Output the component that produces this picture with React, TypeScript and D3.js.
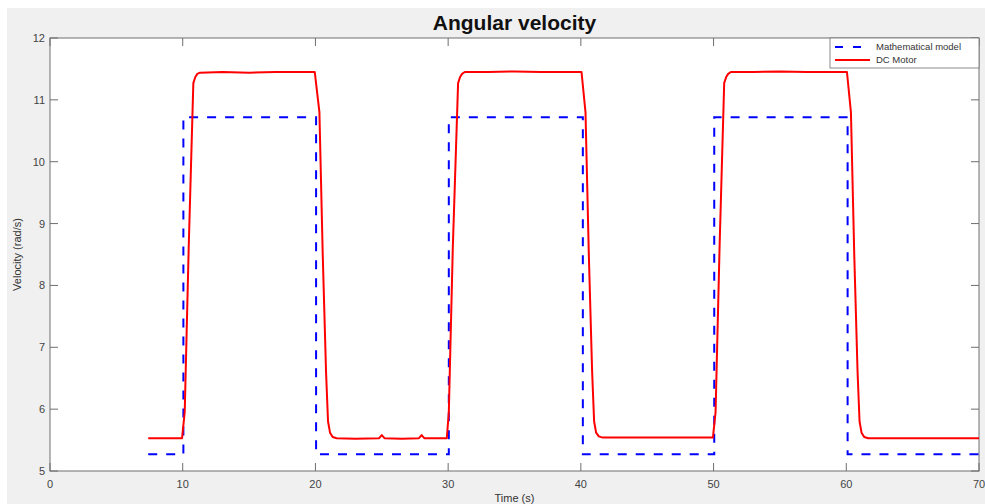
import { useEffect, useRef } from "react";
import * as d3 from "d3";

const W = 985;
const H = 504;
const margin = { top: 38, right: 6, bottom: 33, left: 50 };
const plotW = W - margin.left - margin.right;
const plotH = H - margin.top - margin.bottom;

const xTicks = [0, 10, 20, 30, 40, 50, 60, 70];
const yTicks = [5, 6, 7, 8, 9, 10, 11, 12];

// mathematical model (step input response)
const modelTime = [7.4, 10.05, 10.05, 20.05, 20.05, 30.05, 30.05, 40.15, 40.15, 50.05, 50.05, 60.1, 60.1, 70];
const modelVel = [5.27, 5.27, 10.72, 10.72, 5.27, 5.27, 10.72, 10.72, 5.27, 5.27, 10.72, 10.72, 5.27, 5.27];

// measured DC motor
const motorTime = [
  7.4, 9.95, 10.15, 10.45, 10.8, 10.95, 11.1, 11.3, 13, 15, 17, 19.95,
  20.3, 20.55, 20.8, 20.95, 21.1, 21.3, 21.6, 23, 24.8, 25.0, 25.2, 26.5, 27.8, 28.0, 28.2, 29.9,
  30.05, 30.35, 30.75, 30.9, 31.05, 31.25, 33, 35, 37, 40.05,
  40.35, 40.6, 40.85, 41.0, 41.15, 41.35, 41.65, 44, 47, 49.95,
  50.15, 50.45, 50.8, 50.95, 51.1, 51.3, 53, 55, 57, 60.05,
  60.35, 60.6, 60.85, 61.0, 61.15, 61.35, 61.65, 64, 67, 70,
];
const motorVel = [
  5.53, 5.53, 5.95, 8.6, 11.27, 11.37, 11.42, 11.44, 11.45, 11.44, 11.45, 11.45,
  10.8, 8.5, 6.6, 5.8, 5.62, 5.55, 5.53, 5.52, 5.53, 5.58, 5.53, 5.52, 5.53, 5.58, 5.53, 5.53,
  5.95, 8.6, 11.27, 11.37, 11.42, 11.45, 11.45, 11.46, 11.45, 11.45,
  10.8, 8.5, 6.6, 5.8, 5.62, 5.56, 5.54, 5.54, 5.54, 5.54,
  5.95, 8.6, 11.27, 11.37, 11.42, 11.45, 11.45, 11.46, 11.45, 11.45,
  10.8, 8.5, 6.6, 5.8, 5.62, 5.55, 5.53, 5.53, 5.53, 5.53,
];

export default function App() {
  const ref = useRef<SVGSVGElement>(null);

  useEffect(() => {
    const svg = d3.select(ref.current);
    svg.selectAll("*").remove();

    const x = d3.scaleLinear().domain([0, 70]).range([0, plotW]);
    const y = d3.scaleLinear().domain([5, 12]).range([plotH, 0]);
    const font = "Liberation Sans, Arial, sans-serif";

    svg.append("rect").attr("x", 7).attr("y", 8).attr("width", W - 7).attr("height", H - 8).attr("fill", "#f0f0f0");

    const g = svg.append("g").attr("transform", `translate(${margin.left},${margin.top})`);
    g.append("rect").attr("width", plotW).attr("height", plotH).attr("fill", "#fff");

    const axisColor = "#6e6e6e";
    const tickLen = 8;
    // inward ticks on all four sides, MATLAB style
    xTicks.forEach((t) => {
      g.append("line").attr("x1", x(t)).attr("x2", x(t)).attr("y1", plotH).attr("y2", plotH - tickLen).attr("stroke", axisColor);
      g.append("line").attr("x1", x(t)).attr("x2", x(t)).attr("y1", 0).attr("y2", tickLen).attr("stroke", axisColor);
      g.append("text").attr("x", x(t)).attr("y", plotH + 17).attr("text-anchor", "middle")
        .attr("font-family", font).attr("font-size", 11).attr("fill", "#444").text(t);
    });
    yTicks.forEach((v) => {
      g.append("line").attr("x1", 0).attr("x2", tickLen).attr("y1", y(v)).attr("y2", y(v)).attr("stroke", axisColor);
      g.append("line").attr("x1", plotW).attr("x2", plotW - tickLen).attr("y1", y(v)).attr("y2", y(v)).attr("stroke", axisColor);
      g.append("text").attr("x", -5).attr("y", y(v) + 4).attr("text-anchor", "end")
        .attr("font-family", font).attr("font-size", 11).attr("fill", "#444").text(v);
    });
    g.append("rect").attr("width", plotW).attr("height", plotH).attr("fill", "none").attr("stroke", axisColor);

    const modelLine = d3.line<number>()
      .x((_, i) => x(modelTime[i]))
      .y((d) => y(d));
    const motorLine = d3.line<number>()
      .x((_, i) => x(motorTime[i]))
      .y((d) => y(d));

    g.append("path").attr("d", modelLine(modelVel)).attr("fill", "none").attr("stroke", "#0000ff")
      .attr("stroke-width", 2).attr("stroke-dasharray", "9,9");
    g.append("path").attr("d", motorLine(motorVel)).attr("fill", "none").attr("stroke", "#ff0000")
      .attr("stroke-width", 2).attr("stroke-linejoin", "round");

    // legend
    const lg = g.append("g").attr("transform", `translate(${plotW - 149},0)`);
    lg.append("rect").attr("width", 149).attr("height", 30).attr("fill", "#fff").attr("stroke", axisColor).attr("stroke-width", 0.8);
    lg.append("line").attr("x1", 5).attr("x2", 40).attr("y1", 9).attr("y2", 9).attr("stroke", "#0000ff")
      .attr("stroke-width", 2).attr("stroke-dasharray", "8,10");
    lg.append("line").attr("x1", 5).attr("x2", 40).attr("y1", 22).attr("y2", 22).attr("stroke", "#ff0000").attr("stroke-width", 2);
    lg.append("text").attr("x", 46).attr("y", 12).attr("font-family", font)
      .attr("font-size", 9.5).attr("fill", "#333").text("Mathematical model");
    lg.append("text").attr("x", 46).attr("y", 25).attr("font-family", font)
      .attr("font-size", 9.5).attr("fill", "#333").text("DC Motor");

    svg.append("text").attr("x", margin.left + plotW / 2).attr("y", 30).attr("text-anchor", "middle")
      .attr("font-family", font).attr("font-weight", "bold").attr("font-size", 21)
      .attr("fill", "#111").text("Angular velocity");
    svg.append("text").attr("x", margin.left + plotW / 2).attr("y", 502).attr("text-anchor", "middle")
      .attr("font-family", font).attr("font-size", 11).attr("fill", "#333").text("Time (s)");
    svg.append("text").attr("transform", `translate(21,${margin.top + plotH / 2}) rotate(-90)`).attr("text-anchor", "middle")
      .attr("font-family", font).attr("font-size", 11).attr("fill", "#333").text("Velocity (rad/s)");
  }, []);

  return <svg ref={ref} width={W} height={H} style={{ position: "absolute", left: 0, top: 0 }} />;
}
